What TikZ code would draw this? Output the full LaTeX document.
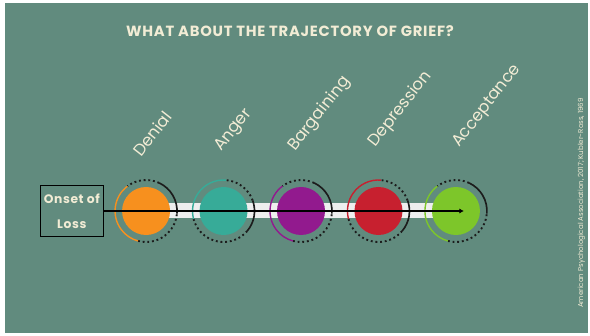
\documentclass[tikz,border=0pt]{standalone}
\usepackage{fontspec}
\setmainfont{Poppins}
\newfontfamily\spacedfont[LetterSpace=5]{Poppins}
\usetikzlibrary{arrows.meta,positioning}

\definecolor{slate}{RGB}{97,139,126}
\definecolor{cream}{RGB}{242,236,213}
\definecolor{denialc}{RGB}{247,144,30}
\definecolor{angerc}{RGB}{55,171,152}
\definecolor{bargainc}{RGB}{146,26,142}
\definecolor{depressc}{RGB}{199,32,47}
\definecolor{acceptc}{RGB}{125,198,42}
\definecolor{trackc}{RGB}{238,238,238}
\definecolor{ink}{RGB}{28,28,28}

\begin{document}
\begin{tikzpicture}[
    x=0.03cm, y=0.03cm,
    node distance=0.87cm,
    every node/.style={text=cream},
    stage/.style={circle, minimum size=1.44cm, inner sep=0pt},
    stagename/.style={font=\fontsize{14}{16}\selectfont, rotate=52, anchor=base west, inner sep=0pt},
    onsetbox/.style={draw=black, line width=0.8pt, minimum width=1.89cm, minimum height=1.53cm, align=center, inner sep=0pt, font=\spacedfont\bfseries\fontsize{10.5}{21}\selectfont},
    trackbar/.style={fill=trackc, minimum width=9.24cm, minimum height=0.45cm, inner sep=0pt},
    flow/.style={-{Latex[length=4pt, width=4.5pt]}, line width=0.9pt, black},
    dotring/.style={ink, line width=1.6pt, dash pattern=on 1.6pt off 2.4pt},
    darkarc/.style={ink, line width=1.4pt},
    % colour arc on the left, dark arc up to the right
    ring up/.pic={
        \draw[dotring] (255:31) arc[start angle=255, end angle=355, radius=31]
                       (65:31) arc[start angle=65, end angle=127, radius=31];
        \draw[#1, line width=1.2pt] (127:31) arc[start angle=127, end angle=255, radius=31];
        \draw[darkarc] (-5:31) arc[start angle=-5, end angle=65, radius=31];
    },
    % colour arc on top, dark arc down to the right
    ring down/.pic={
        \draw[dotring] (195:31) arc[start angle=195, end angle=320, radius=31]
                       (20:31) arc[start angle=20, end angle=85, radius=31];
        \draw[#1, line width=1.2pt] (85:31) arc[start angle=85, end angle=195, radius=31];
        \draw[darkarc] (-40:31) arc[start angle=-40, end angle=20, radius=31];
    }
]
\useasboundingbox (0,0) rectangle (590,335);
\fill[slate] (5,2) rectangle (588,332);

\node[font=\spacedfont\bfseries\fontsize{12.6}{14}\selectfont] (title) at (290,304) {WHAT ABOUT THE TRAJECTORY OF GRIEF?};

% the five stages on a track
\node[trackbar] (track) at (301,124) {};
\node[stage, fill=bargainc] (bargaining) at (track) {};
\node[stage, fill=angerc, left=of bargaining] (anger) {};
\node[stage, fill=denialc, left=of anger] (denial) {};
\node[stage, fill=depressc, right=of bargaining] (depression) {};
\node[stage, fill=acceptc, right=of depression] (acceptance) {};
\node[onsetbox, left=0.54cm of denial] (onset) {Onset of\\Loss};

\pic at (denial) {ring up=denialc};
\pic at (anger) {ring down=angerc};
\pic at (bargaining) {ring up=bargainc};
\pic at (depression) {ring down=depressc};
\pic at (acceptance) {ring up=acceptc};

\node[stagename] (denial name) at ([shift={(-5,53)}]denial) {Denial};
\node[stagename] (anger name) at ([shift={(-2,59)}]anger) {Anger};
\node[stagename] (bargaining name) at ([shift={(-6,59)}]bargaining) {Bargaining};
\node[stagename] (depression name) at ([shift={(-3,63)}]depression) {Depression};
\node[stagename] (acceptance name) at ([shift={(3,63)}]acceptance) {Acceptance};

\draw[flow, shorten >=-0.24cm] (onset.east) -- (acceptance.center);

\node[rotate=90, font=\fontsize{6}{7}\selectfont] (source) at (581.5,132) {American Psychological Association, 2017; Kubler-Ross, 1969};
\end{tikzpicture}
\end{document}
